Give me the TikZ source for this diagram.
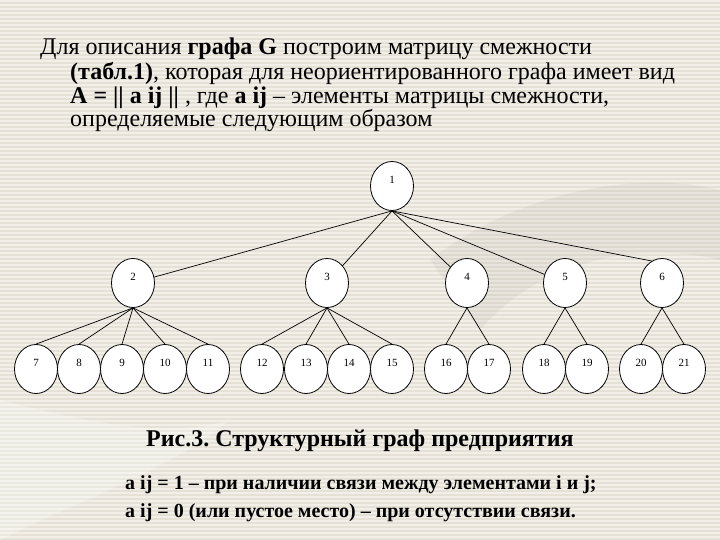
\documentclass[tikz,border=0pt]{standalone}
\usepackage{fontspec}
\setmainfont{LiberationSerif}[Extension=.ttf, UprightFont=*-Regular, BoldFont=*-Bold, ItalicFont=*-Italic, BoldItalicFont=*-BoldItalic]
\usetikzlibrary{shapes.geometric}
\definecolor{bgc}{RGB}{229,225,214}
\definecolor{stripec}{RGB}{241,239,232}
\frenchspacing
\begin{document}
\frenchspacing
\begin{tikzpicture}[x=1pt,y=-1pt,
  vert/.style={ellipse, draw=black, line width=0.8pt, fill=white, minimum width=43pt, minimum height=49pt, inner sep=0pt,
    label={[font=\fontsize{11}{12}\selectfont, yshift=6pt]center:#1}},
  edge/.style={draw=black, line width=0.7pt},
  toptext/.style={anchor=base west, font=\frenchspacing\fontsize{24}{28}\selectfont, inner sep=0pt},
  captext/.style={anchor=base west, font=\frenchspacing\bfseries\fontsize{24}{28}\selectfont, inner sep=0pt},
  bottext/.style={anchor=base west, font=\frenchspacing\bfseries\fontsize{20}{24}\selectfont, inner sep=0pt}]
\useasboundingbox (0,0) rectangle (720,540);
\fill[bgc] (0,0) rectangle (720,540);
\foreach \y in {0,4,...,536} \fill[stripec] (0,\y) rectangle (720,\y+2);
% faint swooshes
\fill[white, opacity=0.25] (0,400) .. controls (80,420) and (160,440) .. (230,420) .. controls (170,470) and (80,500) .. (0,540) -- cycle;
\fill[black, opacity=0.04] (430,260) .. controls (520,190) and (640,170) .. (720,190) -- (720,260) .. controls (640,240) and (540,260) .. (480,330) -- cycle;

% top text
\node[toptext] (t1) at (40,55) {Для описания \textbf{графа G} построим матрицу смежности};
\node[toptext] (t2) at (70,80) {\textbf{(табл.1)}, которая для неориентированного графа имеет вид};
\node[toptext] (t3) at (70,104) {\textbf{A = || a ij ||} , где \textbf{a ij} – элементы матрицы смежности,};
\node[toptext] (t4) at (70,127) {определяемые следующим образом};

% vertices
\node[vert=1] (n1) at (392,186) {};
\node[vert=2] (n2) at (133,283) {};
\node[vert=3] (n3) at (327,283) {};
\node[vert=4] (n4) at (467,283) {};
\node[vert=5] (n5) at (565,283) {};
\node[vert=6] (n6) at (662,283) {};
\foreach \n/\x in {7/36,8/79,9/122,10/165,11/208,12/262,13/306,14/349,15/392,16/446,17/489,18/544,19/587,20/641,21/684}
  \node[vert=\n] (n\n) at (\x,369) {};

% edges
\draw[edge] (n1.south) -- (n2);
\draw[edge] (n1.south) -- (n3);
\draw[edge] (n1.south) -- (n4);
\draw[edge] (n1.south) -- (n5);
\draw[edge] (n1.south) -- (n6.115);
\foreach \c in {7,8,9,10,11} \draw[edge] (n2.south) -- (n\c.north);
\foreach \c in {12,13,14,15} \draw[edge] (n3.south) -- (n\c.north);
\foreach \c in {16,17} \draw[edge] (n4.south) -- (n\c.north);
\foreach \c in {18,19} \draw[edge] (n5.south) -- (n\c.north);
\foreach \c in {20,21} \draw[edge] (n6.south) -- (n\c.north);

% caption and bottom text
\node[captext] (cap) at (146,446) {Рис.3. Структурный граф предприятия};
\node[bottext] (b1) at (125,489) {a ij = 1 – при наличии связи между элементами i и j;};
\node[bottext] (b2) at (125,517) {a ij = 0 (или пустое место) – при отсутствии связи.};
\end{tikzpicture}
\end{document}
